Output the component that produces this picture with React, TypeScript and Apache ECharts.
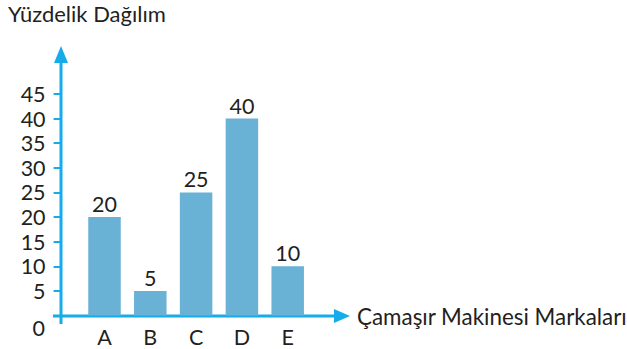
import React, { useEffect, useRef } from "react";
import * as echarts from "echarts";

const categories = ["A", "B", "C", "D", "E"];
const values = [20, 5, 25, 40, 10];
const yTicks = [5, 10, 15, 20, 25, 30, 35, 40, 45];
const yTitle = "Yüzdelik Dağılım";
const xTitle = "Çamaşır Makinesi Markaları";

const AXIS = "#16acea";
const BAR = "#6ab1d6";
const TEXT = "#231f20";
const FONT = "Lato";
const FS = 21.5;

export default function App() {
  const ref = useRef<HTMLDivElement>(null);
  useEffect(() => {
    if (!ref.current) return;
    const chart = echarts.init(ref.current, undefined, { renderer: "svg" });
    chart.setOption({
      animation: false,
      textStyle: { fontFamily: FONT, color: TEXT },
      grid: { left: 81.6, width: 229, top: 94, height: 221.5 },
      xAxis: {
        type: "category",
        data: categories,
        axisLine: { show: false },
        axisTick: { show: false },
        axisLabel: { color: TEXT, fontSize: FS, fontFamily: FONT, margin: 10 },
      },
      yAxis: {
        type: "value",
        min: 0,
        max: 45,
        interval: 5,
        offset: 20,
        splitLine: { show: false },
        axisLine: { show: false },
        axisTick: {
          show: true,
          length: 8,
          customValues: yTicks,
          lineStyle: { color: AXIS, width: 2 },
        },
        axisLabel: {
          customValues: yTicks,
          color: TEXT,
          fontSize: FS,
          fontFamily: FONT,
          margin: 16,
        },
      },
      series: [
        {
          type: "bar",
          data: values,
          barWidth: 32.5,
          itemStyle: { color: BAR },
          label: {
            show: true,
            position: "top",
            distance: 2,
            color: TEXT,
            fontSize: FS,
            fontFamily: FONT,
          },
        },
      ],
      graphic: [
        {
          type: "text",
          left: 8,
          top: 2,
          style: { text: yTitle, fill: TEXT, fontSize: 22, fontFamily: FONT },
        },
        {
          type: "line",
          shape: { x1: 61, y1: 324, x2: 61, y2: 60 },
          style: { stroke: AXIS, lineWidth: 3 },
        },
        {
          type: "polygon",
          shape: { points: [[54, 63], [61, 46], [68, 63]] },
          style: { fill: AXIS },
        },
        {
          type: "line",
          shape: { x1: 53, y1: 316, x2: 338, y2: 316 },
          style: { stroke: AXIS, lineWidth: 3 },
        },
        {
          type: "polygon",
          shape: { points: [[334, 309], [350, 316], [334, 323]] },
          style: { fill: AXIS },
        },
        {
          type: "text",
          x: 45,
          y: 328,
          style: {
            text: "0",
            fill: TEXT,
            fontSize: FS,
            fontFamily: FONT,
            align: "right",
            verticalAlign: "middle",
          },
        },
        {
          type: "text",
          x: 357,
          y: 316,
          style: {
            text: xTitle,
            fill: TEXT,
            fontSize: 22.4,
            fontFamily: FONT,
            verticalAlign: "middle",
          },
        },
      ],
    });
    return () => chart.dispose();
  }, []);
  return (
    <div
      ref={ref}
      style={{ position: "absolute", left: 0, top: 0, width: 627, height: 349 }}
    />
  );
}
